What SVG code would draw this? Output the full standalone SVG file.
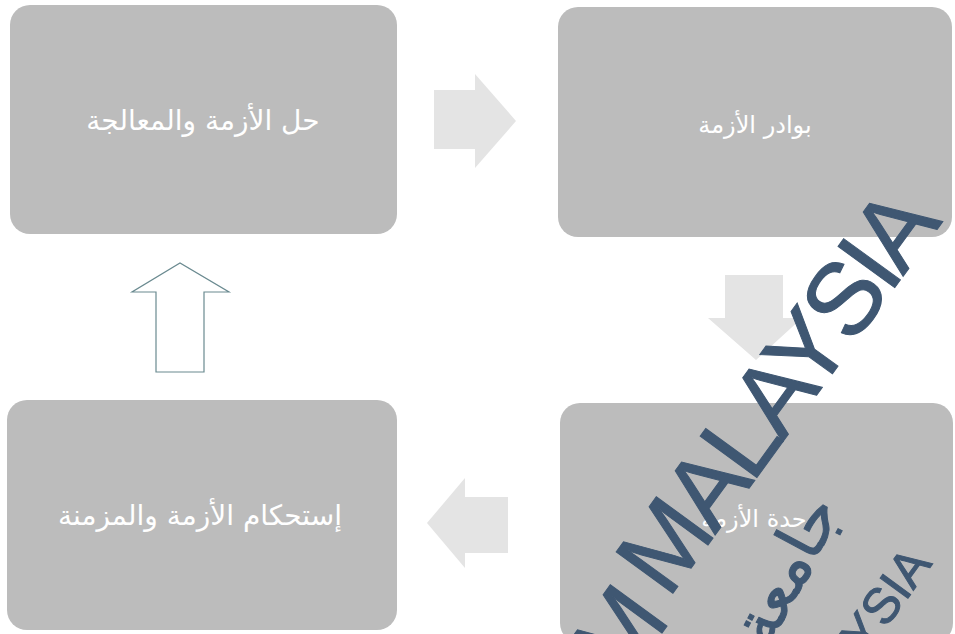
<svg xmlns="http://www.w3.org/2000/svg" width="955" height="634" viewBox="0 0 955 634">
<style>
.box{fill:#bcbcbc;}
.lbl{font-family:"DejaVu Sans","Liberation Sans",sans-serif;fill:#ffffff;text-anchor:middle;direction:rtl;}
.arr{fill:#e4e4e4;}
.wm{font-family:"Liberation Sans",Arial,sans-serif;fill:#3f5772;stroke:#3f5772;stroke-width:1;}
</style>
<rect width="955" height="634" fill="#ffffff"/>
<g id="node-solution">
<rect class="box" x="10" y="5" width="387" height="229" rx="20"/>
<text class="lbl" x="203" y="130" font-size="28">حل الأزمة والمعالجة</text>
</g>
<g id="node-signs">
<rect class="box" x="558" y="7" width="394" height="230" rx="20"/>
<text class="lbl" x="755" y="133" font-size="24">بوادر الأزمة</text>
</g>
<g id="node-peak">
<rect class="box" x="560" y="403" width="393" height="240" rx="20"/>
<text class="lbl" x="754" y="527" font-size="24">حدة الأزمة</text>
</g>
<g id="node-chronic">
<rect class="box" x="7" y="400" width="390" height="230" rx="20"/>
<text class="lbl" x="200" y="525" font-size="28">إستحكام الأزمة والمزمنة</text>
</g>
<g id="connectors">
<polygon class="arr" points="434,90 475,90 475,74 516,121 475,168 475,149 434,149"/>
<polygon class="arr" points="725,275 783,275 783,318 802,318 756,360 708,318 725,318"/>
<polygon class="arr" points="508,497 465,497 465,478 427,523 465,568 465,553 508,553"/>
<polygon points="156,372 204,372 204,292 229,292 180,263 132,292 156,292" fill="#ffffff" stroke="#6a8a90" stroke-width="1.2"/>
</g>
<g id="watermark">
<text class="wm" font-size="102" textLength="468" lengthAdjust="spacing" transform="translate(668,600) rotate(-54)">MALAYSIA</text>
<text class="wm" font-size="102" transform="translate(622,688) rotate(-54)">M</text>
<text class="wm" font-size="50" stroke-width="0.5" transform="translate(866,656) rotate(-54)">YSIA</text>
<text class="wm" font-size="64" stroke-width="0" transform="translate(768,650) rotate(-62)">جامعة</text>
</g>
</svg>
